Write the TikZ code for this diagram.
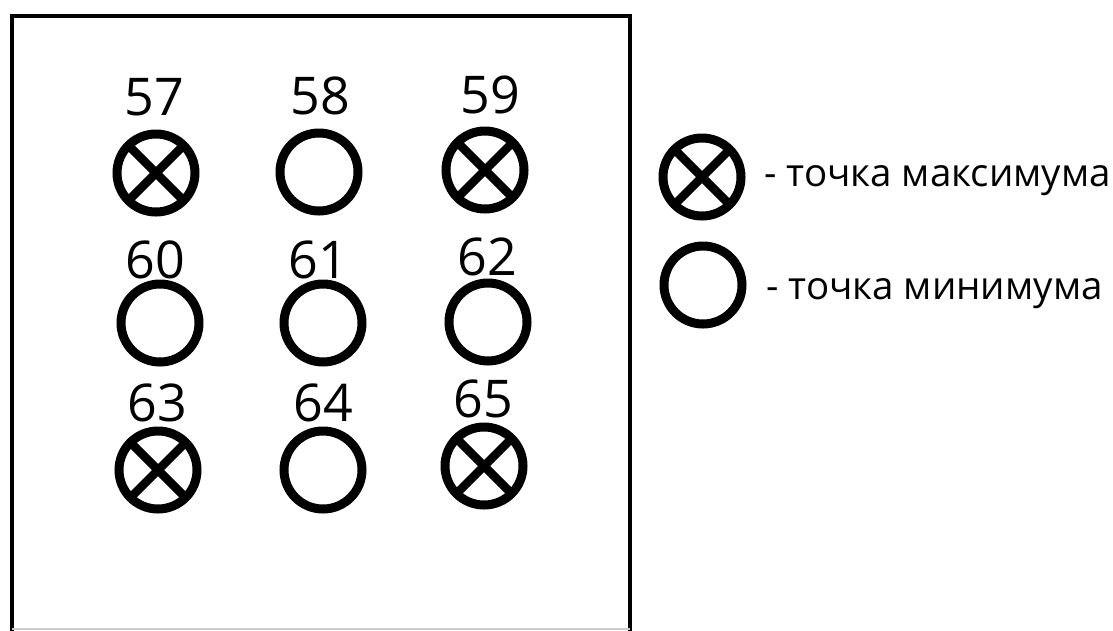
\documentclass[tikz,border=0pt]{standalone}
\usepackage{fontspec}
\setmainfont{Open Sans}
\usetikzlibrary{positioning}

\tikzset{
  minpt/.style={circle, draw, line width=9pt, minimum size=78pt, inner sep=0pt},
  maxpt/.style={minpt, path picture={
    \draw[line width=8.5pt] (path picture bounding box.north west) -- (path picture bounding box.south east)
      (path picture bounding box.north east) -- (path picture bounding box.south west);}},
  num/.style={font=\fontsize{52}{56}\selectfont, inner sep=0pt},
  legtext/.style={font=\fontsize{38.5}{42}\selectfont, anchor=west, inner sep=0pt}
}

\begin{document}
\begin{tikzpicture}[x=1pt, y=-1pt]
  \useasboundingbox (0,0) rectangle (1113,630);
  % Frame
  \draw[line width=4.5pt] (12,632) -- (12,16) -- (630,16) -- (630,632);
  \draw[gray!40, line width=2pt] (12,629) -- (630,629);
  % Points, row 1
  \node[maxpt] (p57) at (156,173) {};
  \node[minpt] (p58) at (319,172) {};
  \node[maxpt] (p59) at (485,170) {};
  % Points, row 2
  \node[minpt] (p60) at (160,323) {};
  \node[minpt] (p61) at (323,323) {};
  \node[minpt] (p62) at (488,322) {};
  % Points, row 3
  \node[maxpt] (p63) at (158,470) {};
  \node[minpt] (p64) at (323,470) {};
  \node[maxpt] (p65) at (484,466) {};
  % Numbers
  \node[num] (l57) at (154,97) {57};
  \node[num] (l58) at (320,96) {58};
  \node[num] (l59) at (490,95) {59};
  \node[num] (l60) at (155,260) {60};
  \node[num] (l61) at (318,260) {61};
  \node[num] (l62) at (487,257) {62};
  \node[num] (l63) at (157,403) {63};
  \node[num] (l64) at (323,403) {64};
  \node[num] (l65) at (483,399) {65};
  % Legend
  \node[maxpt] (kmax) at (702,177) {};
  \node[legtext] (tmax) at (764,181) {- точка максимума};
  \node[minpt] (kmin) at (703,285) {};
  \node[legtext] (tmin) at (766,294) {- точка минимума};
\end{tikzpicture}
\end{document}
